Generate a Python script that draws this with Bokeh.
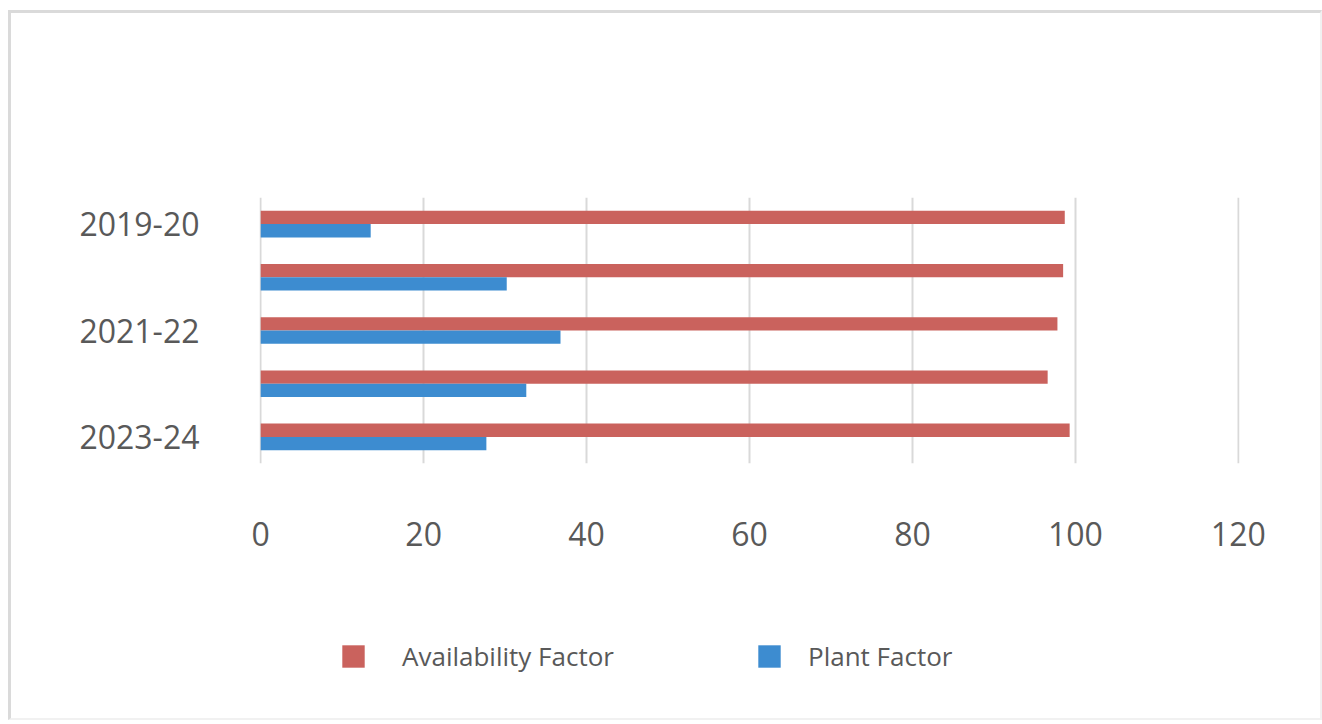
from bokeh.plotting import figure
from bokeh.layouts import column
from bokeh.models import (ColumnDataSource, Range1d, Legend, LegendItem, FixedTicker)
from bokeh.transform import dodge
from bokeh.embed import file_html
from bokeh.resources import INLINE

# Yearly plant performance (%)
years = ["2019-20", "2020-21", "2021-22", "2022-23", "2023-24"]
availability_factor = [98.7, 98.5, 97.8, 96.6, 99.3]
plant_factor = [13.5, 30.2, 36.8, 32.6, 27.7]
x_ticks = [0, 20, 40, 60, 80, 100, 120]
labelled_years = ["2019-20", "2021-22", "2023-24"]
series_names = ["Availability Factor", "Plant Factor"]

RED = "#CA625D"
BLUE = "#3D8CD0"
TEXT = "#595959"
FONT = "Open Sans"
W = 1309

pos = list(range(len(years)))
src = ColumnDataSource(dict(pos=pos, avail=availability_factor, plant=plant_factor))

# ---- bar chart -------------------------------------------------------------
p = figure(width=W, height=587,
           y_range=Range1d(len(years) - 0.5, -0.5),
           x_range=Range1d(-0.15, 120.15),
           output_backend="svg", toolbar_location=None,
           min_border_left=248, min_border_right=81,
           min_border_top=184, min_border_bottom=137)
p.outline_line_color = None
p.border_fill_color = "white"

p.hbar(y=dodge("pos", -0.125), left=0, right="avail",
       height=0.25, fill_color=RED, line_color=None, source=src)
p.hbar(y=dodge("pos", 0.125), left=0, right="plant",
       height=0.25, fill_color=BLUE, line_color=None, source=src)

# x axis: value ticks, no line or tick marks
p.xaxis.ticker = FixedTicker(ticks=x_ticks)
p.xaxis.axis_line_color = None
p.xaxis.major_tick_line_color = None
p.xaxis.minor_tick_line_color = None
p.xaxis.major_label_standoff = 52
p.xaxis.major_label_text_font = FONT
p.xaxis.major_label_text_font_size = "32px"
p.xaxis.major_label_text_color = TEXT

# y axis: every other year labelled
year_ticks = [years.index(y) for y in labelled_years]
p.yaxis.ticker = FixedTicker(ticks=year_ticks)
p.yaxis.major_label_overrides = {i: years[i] for i in year_ticks}
p.yaxis.axis_line_color = None
p.yaxis.major_tick_line_color = None
p.yaxis.minor_tick_line_color = None
p.yaxis.major_label_standoff = 54
p.yaxis.major_label_text_font = FONT
p.yaxis.major_label_text_font_size = "32px"
p.yaxis.major_label_text_color = TEXT

p.xgrid.ticker = FixedTicker(ticks=x_ticks)
p.xgrid.grid_line_color = "#d9d9d9"
p.xgrid.grid_line_width = 2
p.ygrid.grid_line_color = None

# ---- legend strip (its frame lines up with the chart's frame) ---------------
lg = figure(width=W, height=118, x_range=(0, 1), y_range=(0, 1),
            x_axis_type=None, y_axis_type=None,
            output_backend="svg", toolbar_location=None,
            min_border=0)
lg.outline_line_color = None
lg.xgrid.visible = False
lg.ygrid.visible = False
# zero-length bars: they only carry the key colours for the legend
key_avail = lg.hbar(y=[0], left=[0], right=[0], height=1,
                    fill_color=RED, line_color=None)
key_plant = lg.hbar(y=[0], left=[0], right=[0], height=1,
                    fill_color=BLUE, line_color=None)


def make_legend(label, renderer, loc, standoff):
    return Legend(items=[LegendItem(label=label, renderers=[renderer])],
                  location=loc, padding=0, margin=0, border_line_color=None,
                  background_fill_alpha=0, glyph_width=28, glyph_height=28,
                  label_standoff=standoff, label_height=28,
                  label_text_font=FONT, label_text_font_size="26px",
                  label_text_color=TEXT)


lg.add_layout(make_legend(series_names[0], key_avail, (80, 44), 35))
lg.add_layout(make_legend(series_names[1], key_plant, (496, 44), 25))

page = column(p, lg, spacing=0,
              styles={"margin-left": "8px", "margin-top": "10px",
                      "border-left": "3px solid #dadada",
                      "border-top": "3px solid #dadada",
                      "border-right": "2px solid #f1f1f1",
                      "border-bottom": "2px solid #f1f1f1"})

open("out.html", "w").write(file_html(page, INLINE))
